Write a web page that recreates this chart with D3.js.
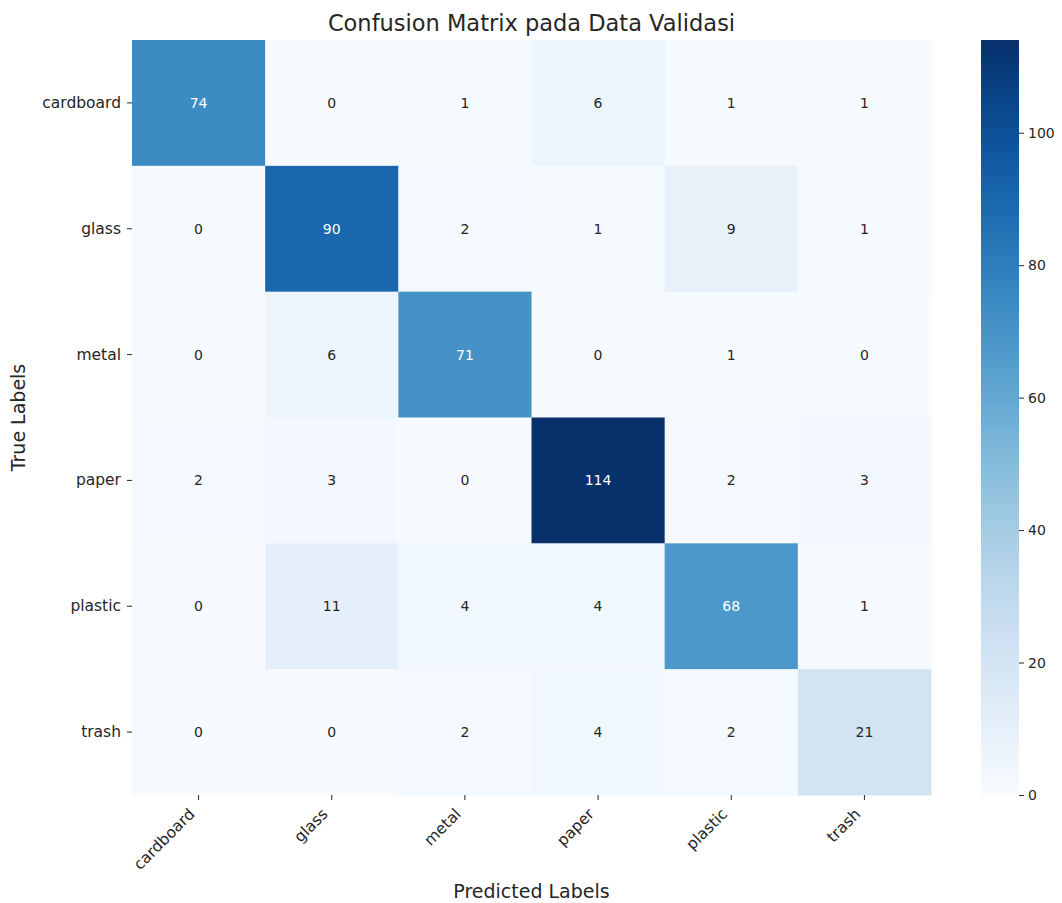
<!DOCTYPE html>
<html>
<head>
<meta charset="utf-8">
<script src="https://cdn.jsdelivr.net/npm/d3@7"></script>
<style>
  html, body { margin: 0; padding: 0; background: #fff; }
  text { font-family: "DejaVu Sans", sans-serif; }
</style>
</head>
<body>
<svg id="chart" width="1062" height="903"></svg>
<script>
// Class names for predicted (columns) and true (rows) labels
const classes = ["cardboard", "glass", "metal", "paper", "plastic", "trash"];

// Confusion matrix counts, one row per true label
const rowCardboard = [74, 0, 1, 6, 1, 1];
const rowGlass     = [0, 90, 2, 1, 9, 1];
const rowMetal     = [0, 6, 71, 0, 1, 0];
const rowPaper     = [2, 3, 0, 114, 2, 3];
const rowPlastic   = [0, 11, 4, 4, 68, 1];
const rowTrash     = [0, 0, 2, 4, 2, 21];
const matrix = [rowCardboard, rowGlass, rowMetal, rowPaper, rowPlastic, rowTrash];

// Colour bar ticks
const colorbarTicks = [0, 20, 40, 60, 80, 100];

const svg = d3.select("#chart");

const plot = { left: 132, right: 931, top: 40, bottom: 795 };
const vmax = d3.max(matrix.flat());

const x = d3.scaleBand().domain(classes).range([plot.left, plot.right]).padding(0);
const y = d3.scaleBand().domain(classes).range([plot.top, plot.bottom]).padding(0);
const color = d3.scaleSequential(d3.interpolateBlues).domain([0, vmax]);

// Cells
const cells = [];
matrix.forEach((row, i) => row.forEach((v, j) => cells.push({ t: classes[i], p: classes[j], v })));

svg.append("g").selectAll("rect").data(cells).join("rect")
  .attr("x", d => x(d.p))
  .attr("y", d => y(d.t))
  .attr("width", x.bandwidth() + 0.5)
  .attr("height", y.bandwidth() + 0.5)
  .attr("fill", d => color(d.v));

// Annotations: white text on dark cells, dark grey on light cells
function relLum(v) {
  const c = d3.rgb(color(v));
  const lin = ch => {
    const s = ch / 255;
    return s <= 0.03928 ? s / 12.92 : Math.pow((s + 0.055) / 1.055, 2.4);
  };
  return 0.2126 * lin(c.r) + 0.7152 * lin(c.g) + 0.0722 * lin(c.b);
}
svg.append("g").selectAll("text").data(cells).join("text")
  .attr("x", d => x(d.p) + x.bandwidth() / 2)
  .attr("y", d => y(d.t) + y.bandwidth() / 2)
  .attr("text-anchor", "middle")
  .attr("dominant-baseline", "central")
  .attr("font-size", 14)
  .attr("fill", d => relLum(d.v) > 0.408 ? "#262626" : "#ffffff")
  .text(d => d.v);

// Axes
const xAxis = svg.append("g")
  .attr("transform", `translate(0,${plot.bottom})`)
  .call(d3.axisBottom(x).tickSize(5).tickPadding(4));
xAxis.select(".domain").remove();
xAxis.selectAll(".tick line").attr("stroke", "#262626").attr("stroke-width", 1);
xAxis.selectAll(".tick text")
  .attr("font-size", 15.5)
  .attr("fill", "#262626")
  .attr("text-anchor", "end")
  .attr("dy", null)
  .attr("y", 0)
  .attr("transform", "translate(-3,20) rotate(-45)");

const yAxis = svg.append("g")
  .attr("transform", `translate(${plot.left},0)`)
  .call(d3.axisLeft(y).tickSize(5).tickPadding(6));
yAxis.select(".domain").remove();
yAxis.selectAll(".tick line").attr("stroke", "#262626");
yAxis.selectAll(".tick text").attr("font-size", 15.5).attr("fill", "#262626");

// Colour bar
const cb = { left: 981, width: 38, top: 40, bottom: 795 };
const defs = svg.append("defs");
const grad = defs.append("linearGradient").attr("id", "cbGrad")
  .attr("x1", 0).attr("y1", 1).attr("x2", 0).attr("y2", 0);
d3.range(0, 1.0001, 0.05).forEach(t => {
  grad.append("stop").attr("offset", t).attr("stop-color", color(t * vmax));
});
svg.append("rect")
  .attr("x", cb.left).attr("y", cb.top)
  .attr("width", cb.width).attr("height", cb.bottom - cb.top)
  .attr("fill", "url(#cbGrad)");

const cbScale = d3.scaleLinear().domain([0, vmax]).range([cb.bottom, cb.top]);
const cbAxis = svg.append("g")
  .attr("transform", `translate(${cb.left + cb.width},0)`)
  .call(d3.axisRight(cbScale).tickValues(colorbarTicks).tickSize(5).tickPadding(4));
cbAxis.select(".domain").remove();
cbAxis.selectAll(".tick line").attr("stroke", "#262626");
cbAxis.selectAll(".tick text").attr("font-size", 14).attr("fill", "#262626");

// Titles
svg.append("text")
  .attr("x", (plot.left + plot.right) / 2).attr("y", 31)
  .attr("text-anchor", "middle").attr("font-size", 22.5).attr("fill", "#262626")
  .text("Confusion Matrix pada Data Validasi");

svg.append("text")
  .attr("x", (plot.left + plot.right) / 2).attr("y", 898)
  .attr("text-anchor", "middle").attr("font-size", 19).attr("fill", "#262626")
  .text("Predicted Labels");

svg.append("text")
  .attr("transform", `translate(25,${(plot.top + plot.bottom) / 2}) rotate(-90)`)
  .attr("text-anchor", "middle").attr("font-size", 19).attr("fill", "#262626")
  .text("True Labels");
</script>
</body>
</html>
